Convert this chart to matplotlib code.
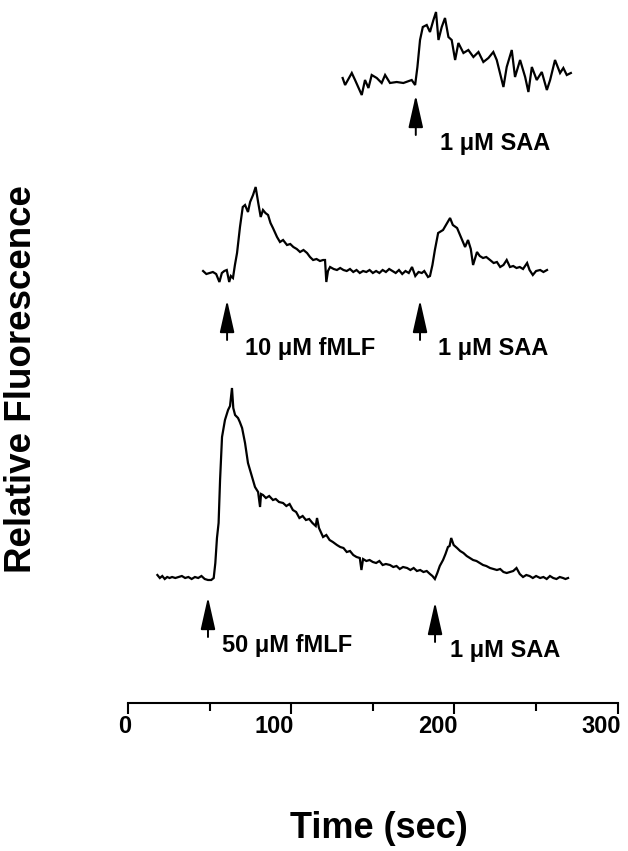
import matplotlib
matplotlib.use('Agg')
import matplotlib.pyplot as plt
import matplotlib.ticker as ticker
import matplotlib.transforms as mtransforms

plt.rcParams['font.family'] = ['Liberation Sans', 'DejaVu Sans']
plt.rcParams['font.weight'] = 'bold'

#----------------
# traces: time (sec) and fluorescence above each trace's own baseline

t_bot = [18, 19.5, 21, 22.5, 24, 25.5, 27, 29, 31, 33,
         35, 37, 39, 41, 43, 45, 47, 49, 51, 52.5,
         53.5, 54.5, 55.5, 56.4, 57.6, 59.4, 61.3, 62.5, 63.7, 64.5,
         65.6, 67.4, 68.5, 69.9, 71.7, 73.5, 76, 77.8, 79.7, 80.9,
         81.5, 82.7, 84.5, 86.5, 88.8, 90.5, 92.5, 95, 97, 99,
         101, 103, 105, 107, 109, 111, 113, 115, 115.8, 117,
         119.5, 121.5, 123.5, 125.5, 128, 130, 132, 134, 136, 138,
         140, 142, 143, 144, 146, 148, 150, 152, 154, 156,
         158, 160.5, 162.5, 164.5, 166.5, 168.5, 171, 173, 175, 177,
         179, 181, 183, 185, 186.5, 188, 189.5, 191, 193, 194.5,
         196, 197, 198, 199.5, 201.6, 203.5, 205.5, 207.5, 209.5, 211.4,
         213.5, 215.5, 217.5, 219.5, 221.8, 224, 226, 228, 230, 232,
         234, 236, 238, 240, 242, 244, 246, 248, 250, 252.5,
         254.5, 256.5, 258.5, 260.5, 262.5, 264.5, 266.5, 268, 269.6]
f_bot = [3, 0, 2, -1, 1, 0, 1, 0, 1, 2,
         0, 1, -1, 1, 0, 2, -1, -2, -2, 0,
         15, 40, 55, 98, 141, 158, 168, 172, 190, 170,
         163, 160, 156, 150, 135, 115, 101, 91, 86, 71,
         84, 83, 80, 82, 78, 79, 76, 75, 72, 74,
         68, 66, 60, 62, 58, 59, 55, 52, 60, 50,
         41, 43, 38, 36, 33, 31, 30, 26, 27, 23,
         21, 20, 8, 19, 17, 18, 16, 15, 17, 13,
         14, 13, 11, 12, 9, 11, 10, 8, 10, 7,
         8, 6, 7, 4, 2, -1, 5, 12, 18, 24,
         31, 32, 40, 33, 30, 27, 25, 22, 20, 18,
         17, 15, 13, 12, 10, 9, 8, 9, 6, 5,
         6, 7, 10, 4, 1, 3, 2, 0, 2, 0,
         1, -1, 2, 0, -1, 1, 0, -1, 0]

t_mid = [46, 48, 50, 52, 54, 56, 57.5, 59, 60.5, 62,
         63, 64.3, 65.5, 66.8, 68.6, 70.3, 71.7, 73.5, 74.8, 76.6,
         78.2, 79.8, 81.3, 82.7, 84.2, 85.8, 87.3, 88.8, 91.3, 93.1,
         95, 97.4, 99.4, 101.3, 103.4, 105.4, 107.5, 109.7, 111.5, 113.4,
         115.5, 117.6, 119.5, 120.7, 121.5, 122.5, 123.8, 126, 128, 130,
         132, 134, 136, 138, 140, 142, 144, 146, 148, 150,
         152, 154, 156, 158, 160, 162, 164, 166, 168, 170,
         172, 174, 176, 178, 180, 181.5, 183.8, 185, 186.5, 188,
         190, 193, 195.5, 197.3, 199, 201.6, 204.7, 206.5, 208.3, 210,
         211.4, 213.8, 215.5, 217.5, 219.5, 221.8, 224, 226, 228, 230,
         232, 234, 236, 238, 240, 242, 244.5, 246, 248, 250,
         252.5, 254.5, 256.7]
f_mid = [2, -1, 0, 1, -1, -9, 0, 2, 3, -9,
         -3, -5, 8, 20, 46, 66, 68, 61, 71, 78,
         86, 70, 56, 63, 60, 58, 50, 45, 36, 31,
         33, 28, 29, 26, 24, 21, 23, 20, 16, 13,
         14, 12, 13, 13, -9, 2, 6, 4, 3, 5,
         3, 2, 4, 1, 3, 0, 2, 1, 3, 0,
         2, 0, 3, 1, 4, 2, 0, 3, -1, 2,
         0, 6, -3, 1, 0, 2, -4, -3, 8, 23,
         40, 43, 50, 55, 48, 45, 33, 26, 33, 24,
         8, 21, 17, 15, 16, 13, 10, 11, 6, 8,
         13, 6, 7, 5, 6, 4, 10, 3, -2, 2,
         3, 1, 3]

t_top = [131.5, 133.0, 137.1, 139.1, 143.2, 145.2, 147.3, 149.3, 152.4, 155.4,
         157.5, 160.5, 164.6, 168.7, 173.8, 175.9, 177.3, 178.9, 180.6, 183.0,
         185.0, 187.1, 188.7, 190.2, 192.2, 194.2, 196.3, 198.3, 200.4, 202.4,
         205.5, 208.5, 211.6, 214.7, 217.7, 220.8, 223.8, 225.9, 230.0, 232.0,
         235.1, 237.1, 240.2, 243.3, 245.3, 247.4, 250.4, 253.5, 256.6, 258.6,
         261.6, 264.7, 266.7, 268.8, 271.3]
f_top = [4, -3, 9, 2, -13, 2, -6, 7, 4, -1,
         7, -1, 0, -1, 2, -3, 15, 42, 55, 57,
         50, 62, 70, 42, 55, 64, 45, 42, 22, 39,
         29, 32, 25, 30, 20, 24, 30, 22, -5, 15,
         32, 5, 22, 5, -10, 15, 2, 10, -8, 2,
         22, 9, 14, 7, 9]

# vertical offset (baseline) of each trace
base_bot = 125
base_mid = 430
base_top = 621

# stimuli: time of arrow, label, trace baseline
stim_t = [49.0, 188.1, 60.7, 178.9, 176.3]
stim_labels = ['50 \u03bcM fMLF', '1 \u03bcM SAA', '10 \u03bcM fMLF', '1 \u03bcM SAA', '1 \u03bcM SAA']
stim_base = [base_bot, base_bot, base_mid, base_mid, base_top]
stim_gap = [19, 24, 27, 27, 13]
label_dx = [8.6, 9.2, 11.0, 11.1, 14.9]

x_ticks = [0, 100, 200, 300]
x_ticklabels = ['0', '100', '200', '300']

#----------------

fig = plt.figure(figsize=(6.28, 8.51), dpi=100)
ax = fig.add_axes([128/628, 1-703/851, 489.7/628, 703/851])

for t, f, b in [(t_bot, f_bot, base_bot), (t_mid, f_mid, base_mid), (t_top, f_top, base_top)]:
    ax.plot(t, [v + b for v in f], color='black', lw=1.6, solid_joinstyle='miter')

for t, lab, b, g, dx in zip(stim_t, stim_labels, stim_base, stim_gap, label_dx):
    tip = b - g
    ax.annotate('', xy=(t, tip), xytext=(t, tip - 40),
                arrowprops=dict(arrowstyle='-|>,head_length=2.0,head_width=0.45',
                                color='black', lw=1.4, shrinkA=0, shrinkB=0))
    ax.text(t + dx, tip - 37, lab, ha='left', va='top', fontsize=17, fontweight='bold')

ax.set_xlim(0, 300)
ax.set_ylim(0, 703)
for s in ['top', 'right', 'left']:
    ax.spines[s].set_visible(False)
ax.spines['bottom'].set_linewidth(1.5)
ax.set_yticks([])
ax.xaxis.set_major_locator(ticker.FixedLocator(x_ticks))
ax.xaxis.set_minor_locator(ticker.MultipleLocator(50))
ax.tick_params(axis='x', which='major', length=8, width=1.5, labelbottom=False)
ax.tick_params(axis='x', which='minor', length=6, width=1.5)
ax.patch.set_visible(False)

# tick labels sit just left of their ticks, as in the original
trans = ax.get_xaxis_transform() + mtransforms.ScaledTranslation(3/100, -12/100, fig.dpi_scale_trans)
for xv, lab in zip(x_ticks, x_ticklabels):
    ax.text(xv, 0, lab, transform=trans, ha='right', va='top', fontsize=17, fontweight='bold')

fig.text(22/628, 1-379/851, 'Relative Fluorescence', rotation=90, ha='center', va='center',
         fontsize=26.5, fontweight='bold')
fig.text(379/628, 1-838/851, 'Time (sec)', ha='center', va='baseline',
         fontsize=26, fontweight='bold')

fig.savefig('out.png', dpi=100, facecolor='white')
